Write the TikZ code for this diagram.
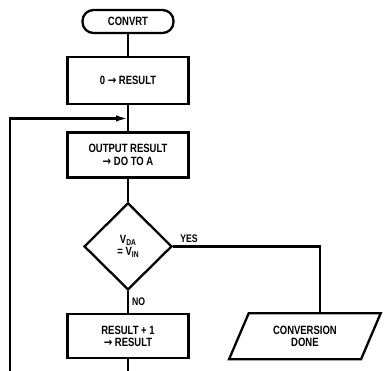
\documentclass[tikz,border=0pt]{standalone}
\usepackage{fontspec}
\setmainfont{Liberation Sans}[UprightFont=* Bold, BoldFont=* Bold, FakeStretch=0.79]
\newfontfamily\arrowfont{DejaVu Sans}[UprightFont=* Bold, FakeStretch=0.85]
\newcommand\toarr{{\arrowfont →}}
\newcommand\sub[1]{\raisebox{-2.2pt}{\fontsize{8.5}{9}\selectfont #1}}
\usetikzlibrary{shapes.geometric, arrows.meta, positioning, calc}
\tikzset{
  chartbox/.style={rectangle, draw, align=center,
    minimum width=121pt, minimum height=46pt, line width=2.3pt},
  termbox/.style={rectangle, draw, rounded corners=11pt, align=center,
    minimum width=91pt, minimum height=23pt, line width=2.3pt},
  decbox/.style={diamond, draw, align=center, inner sep=1pt,
    minimum width=88pt, minimum height=87pt, line width=2.3pt},
  iobox/.style={trapezium, trapezium left angle=66, trapezium right angle=114,
    trapezium stretches=true, draw, align=center,
    minimum width=152pt, minimum height=46pt, line width=2.3pt},
  line/.style={line width=2.3pt},
  arrow/.style={-{Latex[length=12pt, width=6.5pt]}, line width=2.3pt},
  lbl/.style={font=\fontsize{11}{12}\selectfont, inner sep=0pt}
}

\begin{document}
\begin{tikzpicture}[node distance=22pt and 48pt,
  font=\fontsize{12}{12.5}\selectfont]

  \useasboundingbox (0,0) rectangle (385pt,-371pt);

  % Main flow
  \node[termbox] (convrt) at (128pt,-21.5pt) {CONVRT};
  \node[chartbox, minimum height=47pt, below=22pt of convrt] (clear) {0 \toarr{} RESULT};
  \node[chartbox, minimum height=45pt, below=26pt of clear] (output) {OUTPUT RESULT\\\toarr{} DO TO A};
  \node[decbox, below=23pt of output] (compare) {V\sub{DA}\\= V\sub{IN}};
  \node[chartbox, minimum height=44pt, below=22pt of compare] (incr) {RESULT + 1\\\toarr{} RESULT};

  % Exit
  \node[iobox, right=48pt of incr] (done) {CONVERSION\\DONE};

  % Loop and exit points
  \coordinate (merge) at ($(clear.south)!0.5!(output.north)$);
  \coordinate (loopend) at (incr.south |- 0,-371pt);
  \coordinate (loopstart) at (10pt,-371pt);
  \coordinate (yesdrop) at ([xshift=15pt]done.north);

  % Connectors
  \draw[line] (convrt) -- (clear);
  \draw[line] (clear) -- (output);
  \draw[line] (output) -- (compare);
  \draw[line] (compare) -- node[lbl, right=3pt, pos=0.5] {NO} (incr);
  \draw[line] (compare.east) -| node[lbl, above right=3pt and 6pt, pos=0] {YES} (yesdrop);
  \draw[line] (incr) -- (loopend);
  \draw[arrow] (loopstart) |- (merge);

\end{tikzpicture}
\end{document}
